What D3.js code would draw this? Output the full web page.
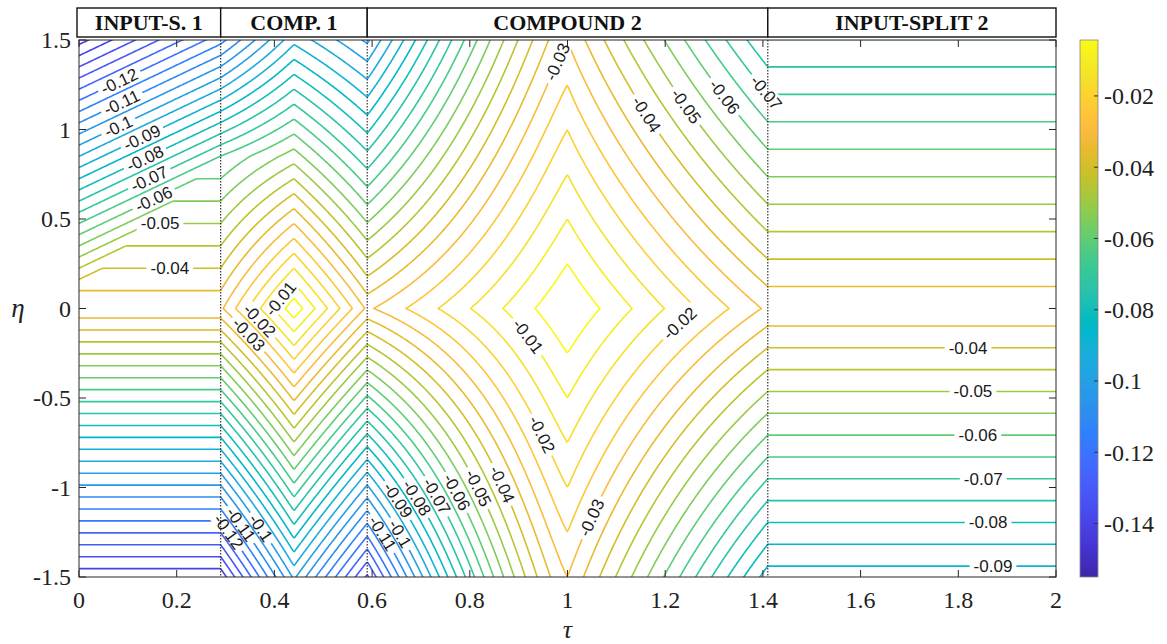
<!DOCTYPE html>
<html>
<head>
<meta charset="utf-8">
<script src="https://cdn.jsdelivr.net/npm/d3@7"></script>
<style>
  body { margin: 0; background: #fff; }
  svg { display: block; }
</style>
</head>
<body>
<svg id="chart" width="1167" height="644"></svg>
<script>
// ---- regions along tau ----
const regionNames = ["INPUT-S. 1", "COMP. 1", "COMPOUND 2", "INPUT-SPLIT 2"];
const regionEdges = [0, 0.29, 0.59, 1.41, 2];
const dividerTaus = [0.29, 0.59, 1.41];

// ---- field description ----
// value on eta = 0 at every region interface
const interfaceValue = [-0.031];
// centre values of the two compound regions
const compoundPeak = [-0.0015, 0.0];
// eta-slope along each compound centre line [above, below]
const compoundCentreSlope = [[0.06, 0.065], [0.02, 0.02]];
// compound 2 eta-slopes at its edges [left above, left below, right above, right below]
const compound2EdgeSlope = [0.05, 0.07, 0.0326, 0.041];
const compound2EdgeShape = [1.3, 1.4, 0.87, 1.0];
// input-split 1: eta-slope [above, below] and tilted band [offset, tau gain, eta slope]
const split1Slope = [0.04, 0.075];
const split1Tilt = [-0.027, 0.104, 0.08];
// input-split 2: eta-slope [above, below]
const split2Slope = [0.0326, 0.041];

// ---- contour levels and labels ----
const contourLevels = [-0.15, -0.145, -0.14, -0.135, -0.13, -0.125, -0.12, -0.115, -0.11, -0.105,
  -0.1, -0.095, -0.09, -0.085, -0.08, -0.075, -0.07, -0.065, -0.06, -0.055,
  -0.05, -0.045, -0.04, -0.035, -0.03, -0.025, -0.02, -0.015, -0.01, -0.005];

const labelLevels = [-0.12, -0.11, -0.1, -0.09, -0.08, -0.07, -0.06, -0.05, -0.04,
  -0.01, -0.02, -0.03, -0.1, -0.11, -0.12,
  -0.03, -0.04, -0.05, -0.06, -0.07, -0.01, -0.02, -0.02, -0.03,
  -0.04, -0.05, -0.06, -0.07, -0.08, -0.09, -0.1, -0.11,
  -0.04, -0.05, -0.06, -0.07, -0.08, -0.09];
const labelTau = [0.084, 0.091, 0.084, 0.128, 0.135, 0.145, 0.152, 0.166, 0.186,
  0.416, 0.375, 0.346, 0.366, 0.33, 0.305,
  0.985, 1.159, 1.24, 1.318, 1.408, 0.917, 1.23, 0.954, 1.046,
  0.872, 0.817, 0.774, 0.729, 0.684, 0.647, 0.653, 0.616,
  1.82, 1.83, 1.84, 1.851, 1.861, 1.871];
const labelEta = [1.261, 1.131, 0.997, 0.96, 0.838, 0.718, 0.616, 0.466, 0.226,
  0.047, -0.053, -0.148, -1.237, -1.209, -1.249,
  1.371, 1.08, 1.126, 1.176, 1.209, -0.159, -0.083, -0.695, -1.165,
  -0.975, -1.003, -1.025, -1.053, -1.07, -1.081, -1.265, -1.265,
  -0.22, -0.466, -0.707, -0.953, -1.198, -1.444];

// ---- axes and colour bar ----
const tauTicks = [0, 0.2, 0.4, 0.6, 0.8, 1, 1.2, 1.4, 1.6, 1.8, 2];
const etaTicks = [-1.5, -1, -0.5, 0, 0.5, 1, 1.5];
const colorLimits = [-0.155, -0.0043];
const colorTicks = [-0.14, -0.12, -0.1, -0.08, -0.06, -0.04, -0.02];
// parula colour map, 64 entries
const parulaTable = [
  [0.2422,0.1504,0.6603],[0.2504,0.1650,0.7076],[0.2578,0.1818,0.7511],[0.2647,0.1978,0.7952],
  [0.2706,0.2147,0.8364],[0.2751,0.2342,0.8710],[0.2783,0.2559,0.8991],[0.2803,0.2782,0.9221],
  [0.2813,0.3006,0.9414],[0.2810,0.3228,0.9579],[0.2795,0.3447,0.9717],[0.2760,0.3667,0.9829],
  [0.2699,0.3892,0.9906],[0.2602,0.4123,0.9952],[0.2440,0.4358,0.9988],[0.2206,0.4603,0.9973],
  [0.1963,0.4847,0.9892],[0.1834,0.5074,0.9798],[0.1786,0.5289,0.9682],[0.1764,0.5499,0.9520],
  [0.1687,0.5703,0.9359],[0.1540,0.5902,0.9218],[0.1460,0.6091,0.9079],[0.1380,0.6276,0.8973],
  [0.1248,0.6459,0.8883],[0.1113,0.6635,0.8763],[0.0952,0.6798,0.8598],[0.0689,0.6948,0.8394],
  [0.0297,0.7082,0.8163],[0.0036,0.7203,0.7917],[0.0067,0.7312,0.7660],[0.0433,0.7411,0.7394],
  [0.0964,0.7500,0.7120],[0.1408,0.7584,0.6842],[0.1717,0.7670,0.6554],[0.1938,0.7758,0.6251],
  [0.2161,0.7843,0.5923],[0.2470,0.7918,0.5567],[0.2906,0.7973,0.5188],[0.3406,0.8008,0.4789],
  [0.3909,0.8029,0.4354],[0.4456,0.8024,0.3909],[0.5044,0.7993,0.3480],[0.5616,0.7942,0.3045],
  [0.6174,0.7876,0.2612],[0.6720,0.7793,0.2227],[0.7242,0.7698,0.1910],[0.7738,0.7598,0.1646],
  [0.8203,0.7498,0.1535],[0.8634,0.7406,0.1596],[0.9035,0.7330,0.1774],[0.9393,0.7288,0.2100],
  [0.9728,0.7298,0.2394],[0.9956,0.7434,0.2371],[0.9970,0.7659,0.2199],[0.9952,0.7893,0.2028],
  [0.9892,0.8136,0.1885],[0.9786,0.8386,0.1766],[0.9676,0.8639,0.1643],[0.9610,0.8890,0.1537],
  [0.9597,0.9135,0.1423],[0.9628,0.9373,0.1265],[0.9691,0.9606,0.1064],[0.9769,0.9839,0.0805]];

// ---- layout ----
const plot = { left: 79, right: 1056, top: 40, bottom: 577 };
const header = { top: 8, bottom: 37 };
const bar = { left: 1080, right: 1098 };
const serif = "'Liberation Serif', 'Times New Roman', Times, serif";
const sans = "'Liberation Sans', Arial, Helvetica, sans-serif";

const svg = d3.select("#chart");
const x = d3.scaleLinear().domain([0, 2]).range([plot.left, plot.right]);
const y = d3.scaleLinear().domain([-1.5, 1.5]).range([plot.bottom, plot.top]);
const parulaColors = parulaTable.map(c => d3.rgb(c[0] * 255, c[1] * 255, c[2] * 255));
const parula = d3.piecewise(d3.interpolateRgb, parulaColors);
const color = d3.scaleSequential(parula).domain(colorLimits);

// ---- field evaluated region by region ----
const V0 = interfaceValue[0];
function splitOne(t, e) {
  if (e >= 0) return Math.min(V0 - split1Slope[0] * e,
    split1Tilt[0] + split1Tilt[1] * t - split1Tilt[2] * e);
  return V0 + split1Slope[1] * e;
}
function splitTwo(t, e) {
  return e >= 0 ? V0 - split2Slope[0] * e : V0 + split2Slope[1] * e;
}
function compoundTwo(t, e) {
  const lo = regionEdges[2], hi = regionEdges[3];
  const c = (lo + hi) / 2, half = (hi - lo) / 2;
  const w = Math.min(1, Math.abs(t - c) / half);
  const a = Math.abs(e);
  const k = (t < c ? 0 : 2) + (e >= 0 ? 0 : 1);
  const bc = compoundCentreSlope[1][e >= 0 ? 0 : 1];
  return compoundPeak[1] + (V0 - compoundPeak[1]) * w - bc * a
    - (compound2EdgeSlope[k] - bc) * a * Math.pow(w, compound2EdgeShape[k]);
}
function compoundOne(t, e) {
  const lo = regionEdges[1], hi = regionEdges[2];
  const c = (lo + hi) / 2, half = (hi - lo) / 2;
  const w = Math.min(1, Math.abs(t - c) / half);
  const fc = compoundPeak[0] - compoundCentreSlope[0][e >= 0 ? 0 : 1] * Math.abs(e);
  const fb = t < c ? splitOne(lo, e) : compoundTwo(hi, e);
  return fc + (fb - fc) * w;
}
function field(t, e) {
  if (t < regionEdges[1]) return splitOne(t, e);
  if (t < regionEdges[2]) return compoundOne(t, e);
  if (t < regionEdges[3]) return compoundTwo(t, e);
  return splitTwo(t, e);
}

// ---- sample grid (slightly wider than the axes, padded with a low rim) ----
const dt = 0.003, de = 0.006, t0 = -0.03, eTop = 1.53;
const nt = Math.round(2.06 / dt) + 1, ne = Math.round(3.06 / de) + 1;
const nx = nt + 2, ny = ne + 2;
const grid = new Float64Array(nx * ny).fill(-1);
for (let j = 0; j < ne; j++) {
  const e = eTop - j * de;
  for (let i = 0; i < nt; i++) grid[(j + 1) * nx + i + 1] = field(t0 + i * dt, e);
}
const gridToScreen = d3.geoTransform({
  point(gx, gy) { this.stream.point(x(t0 + (gx - 1.5) * dt), y(eTop - (gy - 1.5) * de)); }
});
const contourPath = d3.geoPath(gridToScreen);
const bands = d3.contours().size([nx, ny]).thresholds(contourLevels)(grid);

// ---- label placement on the contour of its own level ----
const fx = (px, py) => field(x.invert(px), y.invert(py));
const labels = labelLevels.map((lv, i) => {
  let px = x(labelTau[i]), py = y(labelEta[i]);
  let gx = 0, gy = 0;
  for (let it = 0; it < 30; it++) {
    const f = fx(px, py) - lv;
    gx = (fx(px + 0.5, py) - fx(px - 0.5, py));
    gy = (fx(px, py + 0.5) - fx(px, py - 0.5));
    const g2 = gx * gx + gy * gy;
    if (g2 === 0) break;
    px -= f * gx / g2; py -= f * gy / g2;
    if (Math.abs(f) < 1e-7) break;
  }
  let ang = Math.atan2(gx, -gy) * 180 / Math.PI;
  if (ang > 90) ang -= 180;
  if (ang <= -90) ang += 180;
  return { level: lv, px, py, ang, text: String(lv) };
});

const defs = svg.append("defs");
defs.append("clipPath").attr("id", "plotClip").append("rect")
  .attr("x", plot.left).attr("y", plot.top)
  .attr("width", plot.right - plot.left).attr("height", plot.bottom - plot.top);

const labelSize = 17;
// measure label text
const probe = svg.append("text").attr("font-family", sans).attr("font-size", labelSize);
labels.forEach(l => { probe.text(l.text); l.w = probe.node().getComputedTextLength(); });
probe.remove();

// one mask per labelled level, cutting gaps for the labels
const maskId = lv => "gap" + Math.round(-lv * 1000);
const labelled = Array.from(new Set(labelLevels));
labelled.forEach(lv => {
  const m = defs.append("mask").attr("id", maskId(lv)).attr("maskUnits", "userSpaceOnUse")
    .attr("x", 0).attr("y", 0).attr("width", 1167).attr("height", 644);
  m.append("rect").attr("x", 0).attr("y", 0).attr("width", 1167).attr("height", 644).attr("fill", "#fff");
  labels.filter(l => l.level === lv).forEach(l => {
    m.append("rect")
      .attr("x", -l.w / 2 - 4).attr("y", -8).attr("width", l.w + 8).attr("height", 16)
      .attr("fill", "#000")
      .attr("transform", `translate(${l.px},${l.py}) rotate(${l.ang})`);
  });
});
const levelMask = v => {
  const lv = labelled.find(l => Math.abs(l - v) < 1e-9);
  return lv === undefined ? null : `url(#${maskId(lv)})`;
};

// ---- contour lines ----
const lineLayer = svg.append("g").attr("clip-path", "url(#plotClip)");
lineLayer.selectAll("path").data(bands).join("path")
  .attr("d", contourPath)
  .attr("fill", "none")
  .attr("stroke", d => color(d.value))
  .attr("stroke-width", 1.6)
  .attr("stroke-linejoin", "round")
  .attr("mask", d => levelMask(d.value));

// ---- region dividers ----
svg.append("g").selectAll("line").data(dividerTaus).join("line")
  .attr("x1", d => x(d)).attr("x2", d => x(d))
  .attr("y1", plot.top).attr("y2", plot.bottom)
  .attr("stroke", "#333").attr("stroke-width", 1.2).attr("stroke-dasharray", "1.5,1.5");

// ---- contour labels ----
svg.append("g").selectAll("text").data(labels).join("text")
  .attr("transform", d => `translate(${d.px},${d.py}) rotate(${d.ang})`)
  .attr("text-anchor", "middle").attr("dy", "0.35em")
  .attr("font-family", sans).attr("font-size", labelSize).attr("fill", "#1a1a1a")
  .text(d => d.text);

// ---- axes frame and ticks ----
const ax = svg.append("g").attr("stroke", "#262626").attr("stroke-width", 1);
ax.append("rect").attr("x", plot.left).attr("y", plot.top)
  .attr("width", plot.right - plot.left).attr("height", plot.bottom - plot.top).attr("fill", "none");
const tickLen = 7;
tauTicks.forEach(t => {
  ax.append("line").attr("x1", x(t)).attr("x2", x(t)).attr("y1", plot.bottom).attr("y2", plot.bottom - tickLen);
  ax.append("line").attr("x1", x(t)).attr("x2", x(t)).attr("y1", plot.top).attr("y2", plot.top + tickLen);
});
etaTicks.forEach(e => {
  ax.append("line").attr("x1", plot.left).attr("x2", plot.left + tickLen).attr("y1", y(e)).attr("y2", y(e));
  ax.append("line").attr("x1", plot.right).attr("x2", plot.right - tickLen).attr("y1", y(e)).attr("y2", y(e));
});
svg.append("g").selectAll("text").data(tauTicks).join("text")
  .attr("x", d => x(d)).attr("y", plot.bottom + 31)
  .attr("text-anchor", "middle").attr("font-family", serif).attr("font-size", 24).attr("fill", "#222")
  .text(d => String(d));
svg.append("g").selectAll("text").data(etaTicks).join("text")
  .attr("x", plot.left - 8).attr("y", d => y(d)).attr("dy", "0.35em")
  .attr("text-anchor", "end").attr("font-family", serif).attr("font-size", 24).attr("fill", "#222")
  .text(d => String(d));
svg.append("text").attr("x", 18).attr("y", y(0)).attr("dy", "0.3em")
  .attr("text-anchor", "middle").attr("font-family", serif).attr("font-style", "italic")
  .attr("font-size", 27).attr("fill", "#222").text("η");
svg.append("text").attr("x", x(1)).attr("y", 638)
  .attr("text-anchor", "middle").attr("font-family", serif).attr("font-style", "italic")
  .attr("font-size", 26).attr("fill", "#222").text("τ");

// ---- region header boxes ----
const hdr = svg.append("g");
regionNames.forEach((name, i) => {
  const xa = i === 0 ? plot.left - 2 : x(regionEdges[i]);
  const xb = x(regionEdges[i + 1]);
  hdr.append("rect").attr("x", xa).attr("y", header.top)
    .attr("width", xb - xa).attr("height", header.bottom - header.top)
    .attr("fill", "#fff").attr("stroke", "#111").attr("stroke-width", 1.4);
  hdr.append("text").attr("x", (xa + xb) / 2).attr("y", (header.top + header.bottom) / 2)
    .attr("dy", "0.35em").attr("text-anchor", "middle")
    .attr("font-family", serif).attr("font-weight", "bold").attr("font-size", 22).attr("fill", "#111")
    .text(name);
});

// ---- colour bar ----
const cb = d3.scaleLinear().domain(colorLimits).range([plot.bottom, plot.top]);
const grad = defs.append("linearGradient").attr("id", "barGrad")
  .attr("x1", 0).attr("y1", 1).attr("x2", 0).attr("y2", 0);
parulaColors.forEach((c, i) => {
  grad.append("stop").attr("offset", i / (parulaColors.length - 1)).attr("stop-color", c);
});
svg.append("rect").attr("x", bar.left).attr("y", plot.top)
  .attr("width", bar.right - bar.left).attr("height", plot.bottom - plot.top)
  .attr("fill", "url(#barGrad)").attr("stroke", "#888").attr("stroke-width", 0.8);
svg.append("g").selectAll("line").data(colorTicks).join("line")
  .attr("x1", bar.right - 4).attr("x2", bar.right).attr("y1", d => cb(d)).attr("y2", d => cb(d))
  .attr("stroke", "#333").attr("stroke-width", 1);
svg.append("g").selectAll("text").data(colorTicks).join("text")
  .attr("x", bar.right + 6).attr("y", d => cb(d)).attr("dy", "0.35em")
  .attr("font-family", serif).attr("font-size", 24).attr("fill", "#222")
  .text(d => String(d));
</script>
</body>
</html>
